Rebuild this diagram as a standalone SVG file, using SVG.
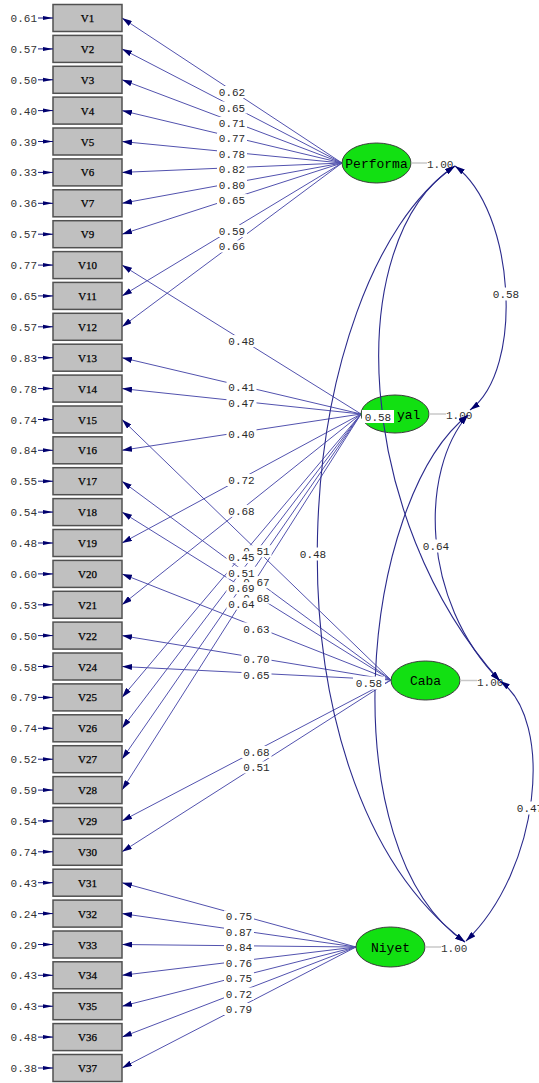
<svg xmlns="http://www.w3.org/2000/svg" width="539" height="1083" viewBox="0 0 539 1083">
<style>
.ov rect{fill:#c0c0c0;stroke:#505050;stroke-width:1.5}
.vn{font:11px "Liberation Serif",serif;fill:#000;text-anchor:middle;stroke:#000;stroke-width:0.25}
.ev{font:11px "Liberation Mono",monospace;fill:#333;text-anchor:end}
.ea{stroke:#1a1a80;stroke-width:1;marker-end:url(#ae)}
.lv ellipse{fill:#12e012;stroke:#3c3c3c;stroke-width:1}
.lt{font:13px "Liberation Mono",monospace;fill:#000;text-anchor:middle}
.vl{stroke:#c8c8c8;stroke-width:1.5}
.vt{font:11px "Liberation Mono",monospace;fill:#333}
.ld line{stroke:#5252ae;stroke-width:1;marker-end:url(#a)}
.cv path{stroke:#2a2a8c;stroke-width:1.1;fill:none;marker-start:url(#a);marker-end:url(#a)}
.lb rect{fill:#fff}
.lb text{font:11px "Liberation Mono",monospace;fill:#2a2a2a;text-anchor:middle}
</style>
<defs>
<marker id="a" markerUnits="userSpaceOnUse" viewBox="0 0 10 6" refX="10" refY="3" markerWidth="10" markerHeight="6" orient="auto-start-reverse"><path d="M0,0L10,3L0,6z" fill="#00006e"/></marker>
<marker id="ae" markerUnits="userSpaceOnUse" viewBox="0 0 10 5" refX="10" refY="2.5" markerWidth="10" markerHeight="5" orient="auto"><path d="M0,0.5L10,2.5L0,4.5z" fill="#00006e"/></marker>
</defs>
<rect width="539" height="1083" fill="#fff"/>

<g id="loadings" class="ld">
<line x1="342" y1="163" x2="122" y2="18"/>
<line x1="342" y1="163" x2="122" y2="48.9"/>
<line x1="342" y1="163" x2="122" y2="79.8"/>
<line x1="342" y1="163" x2="122" y2="110.6"/>
<line x1="342" y1="163" x2="122" y2="141.5"/>
<line x1="342" y1="163" x2="122" y2="172.4"/>
<line x1="342" y1="163" x2="122" y2="203.3"/>
<line x1="342" y1="163" x2="122" y2="234.2"/>
<line x1="342" y1="163" x2="122" y2="295.9"/>
<line x1="342" y1="163" x2="122" y2="326.8"/>
<line x1="361" y1="414" x2="122" y2="265.1"/>
<line x1="361" y1="414" x2="122" y2="357.7"/>
<line x1="361" y1="414" x2="122" y2="388.6"/>
<line x1="361" y1="414" x2="122" y2="450.3"/>
<line x1="361" y1="414" x2="122" y2="543"/>
<line x1="361" y1="414" x2="122" y2="604.8"/>
<line x1="361" y1="414" x2="122" y2="697.4"/>
<line x1="361" y1="414" x2="122" y2="728.3"/>
<line x1="361" y1="414" x2="122" y2="759.2"/>
<line x1="361" y1="414" x2="122" y2="790.1"/>
<line x1="391" y1="680" x2="122" y2="419.5"/>
<line x1="391" y1="680" x2="122" y2="481.2"/>
<line x1="391" y1="680" x2="122" y2="512.1"/>
<line x1="391" y1="680" x2="122" y2="573.9"/>
<line x1="391" y1="680" x2="122" y2="635.6"/>
<line x1="391" y1="680" x2="122" y2="666.5"/>
<line x1="391" y1="680" x2="122" y2="820.9"/>
<line x1="391" y1="680" x2="122" y2="851.8"/>
<line x1="356" y1="947" x2="122" y2="882.7"/>
<line x1="356" y1="947" x2="122" y2="913.6"/>
<line x1="356" y1="947" x2="122" y2="944.5"/>
<line x1="356" y1="947" x2="122" y2="975.3"/>
<line x1="356" y1="947" x2="122" y2="1006.2"/>
<line x1="356" y1="947" x2="122" y2="1037.1"/>
<line x1="356" y1="947" x2="122" y2="1068"/>
</g>

<g id="V1" class="ov" transform="translate(0,18)"><rect x="53" y="-13.5" width="69" height="27"/><text class="vn" x="87.5" y="4">V1</text><text class="ev" x="37" y="4">0.61</text><line class="ea" x1="38" y1="0" x2="53" y2="0"/></g>
<g id="V2" class="ov" transform="translate(0,48.9)"><rect x="53" y="-13.5" width="69" height="27"/><text class="vn" x="87.5" y="4">V2</text><text class="ev" x="37" y="4">0.57</text><line class="ea" x1="38" y1="0" x2="53" y2="0"/></g>
<g id="V3" class="ov" transform="translate(0,79.8)"><rect x="53" y="-13.5" width="69" height="27"/><text class="vn" x="87.5" y="4">V3</text><text class="ev" x="37" y="4">0.50</text><line class="ea" x1="38" y1="0" x2="53" y2="0"/></g>
<g id="V4" class="ov" transform="translate(0,110.6)"><rect x="53" y="-13.5" width="69" height="27"/><text class="vn" x="87.5" y="4">V4</text><text class="ev" x="37" y="4">0.40</text><line class="ea" x1="38" y1="0" x2="53" y2="0"/></g>
<g id="V5" class="ov" transform="translate(0,141.5)"><rect x="53" y="-13.5" width="69" height="27"/><text class="vn" x="87.5" y="4">V5</text><text class="ev" x="37" y="4">0.39</text><line class="ea" x1="38" y1="0" x2="53" y2="0"/></g>
<g id="V6" class="ov" transform="translate(0,172.4)"><rect x="53" y="-13.5" width="69" height="27"/><text class="vn" x="87.5" y="4">V6</text><text class="ev" x="37" y="4">0.33</text><line class="ea" x1="38" y1="0" x2="53" y2="0"/></g>
<g id="V7" class="ov" transform="translate(0,203.3)"><rect x="53" y="-13.5" width="69" height="27"/><text class="vn" x="87.5" y="4">V7</text><text class="ev" x="37" y="4">0.36</text><line class="ea" x1="38" y1="0" x2="53" y2="0"/></g>
<g id="V9" class="ov" transform="translate(0,234.2)"><rect x="53" y="-13.5" width="69" height="27"/><text class="vn" x="87.5" y="4">V9</text><text class="ev" x="37" y="4">0.57</text><line class="ea" x1="38" y1="0" x2="53" y2="0"/></g>
<g id="V10" class="ov" transform="translate(0,265.1)"><rect x="53" y="-13.5" width="69" height="27"/><text class="vn" x="87.5" y="4">V10</text><text class="ev" x="37" y="4">0.77</text><line class="ea" x1="38" y1="0" x2="53" y2="0"/></g>
<g id="V11" class="ov" transform="translate(0,295.9)"><rect x="53" y="-13.5" width="69" height="27"/><text class="vn" x="87.5" y="4">V11</text><text class="ev" x="37" y="4">0.65</text><line class="ea" x1="38" y1="0" x2="53" y2="0"/></g>
<g id="V12" class="ov" transform="translate(0,326.8)"><rect x="53" y="-13.5" width="69" height="27"/><text class="vn" x="87.5" y="4">V12</text><text class="ev" x="37" y="4">0.57</text><line class="ea" x1="38" y1="0" x2="53" y2="0"/></g>
<g id="V13" class="ov" transform="translate(0,357.7)"><rect x="53" y="-13.5" width="69" height="27"/><text class="vn" x="87.5" y="4">V13</text><text class="ev" x="37" y="4">0.83</text><line class="ea" x1="38" y1="0" x2="53" y2="0"/></g>
<g id="V14" class="ov" transform="translate(0,388.6)"><rect x="53" y="-13.5" width="69" height="27"/><text class="vn" x="87.5" y="4">V14</text><text class="ev" x="37" y="4">0.78</text><line class="ea" x1="38" y1="0" x2="53" y2="0"/></g>
<g id="V15" class="ov" transform="translate(0,419.5)"><rect x="53" y="-13.5" width="69" height="27"/><text class="vn" x="87.5" y="4">V15</text><text class="ev" x="37" y="4">0.74</text><line class="ea" x1="38" y1="0" x2="53" y2="0"/></g>
<g id="V16" class="ov" transform="translate(0,450.3)"><rect x="53" y="-13.5" width="69" height="27"/><text class="vn" x="87.5" y="4">V16</text><text class="ev" x="37" y="4">0.84</text><line class="ea" x1="38" y1="0" x2="53" y2="0"/></g>
<g id="V17" class="ov" transform="translate(0,481.2)"><rect x="53" y="-13.5" width="69" height="27"/><text class="vn" x="87.5" y="4">V17</text><text class="ev" x="37" y="4">0.55</text><line class="ea" x1="38" y1="0" x2="53" y2="0"/></g>
<g id="V18" class="ov" transform="translate(0,512.1)"><rect x="53" y="-13.5" width="69" height="27"/><text class="vn" x="87.5" y="4">V18</text><text class="ev" x="37" y="4">0.54</text><line class="ea" x1="38" y1="0" x2="53" y2="0"/></g>
<g id="V19" class="ov" transform="translate(0,543)"><rect x="53" y="-13.5" width="69" height="27"/><text class="vn" x="87.5" y="4">V19</text><text class="ev" x="37" y="4">0.48</text><line class="ea" x1="38" y1="0" x2="53" y2="0"/></g>
<g id="V20" class="ov" transform="translate(0,573.9)"><rect x="53" y="-13.5" width="69" height="27"/><text class="vn" x="87.5" y="4">V20</text><text class="ev" x="37" y="4">0.60</text><line class="ea" x1="38" y1="0" x2="53" y2="0"/></g>
<g id="V21" class="ov" transform="translate(0,604.8)"><rect x="53" y="-13.5" width="69" height="27"/><text class="vn" x="87.5" y="4">V21</text><text class="ev" x="37" y="4">0.53</text><line class="ea" x1="38" y1="0" x2="53" y2="0"/></g>
<g id="V22" class="ov" transform="translate(0,635.6)"><rect x="53" y="-13.5" width="69" height="27"/><text class="vn" x="87.5" y="4">V22</text><text class="ev" x="37" y="4">0.50</text><line class="ea" x1="38" y1="0" x2="53" y2="0"/></g>
<g id="V24" class="ov" transform="translate(0,666.5)"><rect x="53" y="-13.5" width="69" height="27"/><text class="vn" x="87.5" y="4">V24</text><text class="ev" x="37" y="4">0.58</text><line class="ea" x1="38" y1="0" x2="53" y2="0"/></g>
<g id="V25" class="ov" transform="translate(0,697.4)"><rect x="53" y="-13.5" width="69" height="27"/><text class="vn" x="87.5" y="4">V25</text><text class="ev" x="37" y="4">0.79</text><line class="ea" x1="38" y1="0" x2="53" y2="0"/></g>
<g id="V26" class="ov" transform="translate(0,728.3)"><rect x="53" y="-13.5" width="69" height="27"/><text class="vn" x="87.5" y="4">V26</text><text class="ev" x="37" y="4">0.74</text><line class="ea" x1="38" y1="0" x2="53" y2="0"/></g>
<g id="V27" class="ov" transform="translate(0,759.2)"><rect x="53" y="-13.5" width="69" height="27"/><text class="vn" x="87.5" y="4">V27</text><text class="ev" x="37" y="4">0.52</text><line class="ea" x1="38" y1="0" x2="53" y2="0"/></g>
<g id="V28" class="ov" transform="translate(0,790.1)"><rect x="53" y="-13.5" width="69" height="27"/><text class="vn" x="87.5" y="4">V28</text><text class="ev" x="37" y="4">0.59</text><line class="ea" x1="38" y1="0" x2="53" y2="0"/></g>
<g id="V29" class="ov" transform="translate(0,820.9)"><rect x="53" y="-13.5" width="69" height="27"/><text class="vn" x="87.5" y="4">V29</text><text class="ev" x="37" y="4">0.54</text><line class="ea" x1="38" y1="0" x2="53" y2="0"/></g>
<g id="V30" class="ov" transform="translate(0,851.8)"><rect x="53" y="-13.5" width="69" height="27"/><text class="vn" x="87.5" y="4">V30</text><text class="ev" x="37" y="4">0.74</text><line class="ea" x1="38" y1="0" x2="53" y2="0"/></g>
<g id="V31" class="ov" transform="translate(0,882.7)"><rect x="53" y="-13.5" width="69" height="27"/><text class="vn" x="87.5" y="4">V31</text><text class="ev" x="37" y="4">0.43</text><line class="ea" x1="38" y1="0" x2="53" y2="0"/></g>
<g id="V32" class="ov" transform="translate(0,913.6)"><rect x="53" y="-13.5" width="69" height="27"/><text class="vn" x="87.5" y="4">V32</text><text class="ev" x="37" y="4">0.24</text><line class="ea" x1="38" y1="0" x2="53" y2="0"/></g>
<g id="V33" class="ov" transform="translate(0,944.5)"><rect x="53" y="-13.5" width="69" height="27"/><text class="vn" x="87.5" y="4">V33</text><text class="ev" x="37" y="4">0.29</text><line class="ea" x1="38" y1="0" x2="53" y2="0"/></g>
<g id="V34" class="ov" transform="translate(0,975.3)"><rect x="53" y="-13.5" width="69" height="27"/><text class="vn" x="87.5" y="4">V34</text><text class="ev" x="37" y="4">0.43</text><line class="ea" x1="38" y1="0" x2="53" y2="0"/></g>
<g id="V35" class="ov" transform="translate(0,1006.2)"><rect x="53" y="-13.5" width="69" height="27"/><text class="vn" x="87.5" y="4">V35</text><text class="ev" x="37" y="4">0.43</text><line class="ea" x1="38" y1="0" x2="53" y2="0"/></g>
<g id="V36" class="ov" transform="translate(0,1037.1)"><rect x="53" y="-13.5" width="69" height="27"/><text class="vn" x="87.5" y="4">V36</text><text class="ev" x="37" y="4">0.48</text><line class="ea" x1="38" y1="0" x2="53" y2="0"/></g>
<g id="V37" class="ov" transform="translate(0,1068)"><rect x="53" y="-13.5" width="69" height="27"/><text class="vn" x="87.5" y="4">V37</text><text class="ev" x="37" y="4">0.38</text><line class="ea" x1="38" y1="0" x2="53" y2="0"/></g>

<g id="Performa" class="lv"><ellipse cx="376.5" cy="163" rx="34.5" ry="20"/><text class="lt" x="376.5" y="167.5">Performa</text><line class="vl" x1="411" y1="163" x2="427" y2="163"/><text class="vt" x="427" y="168">1.00</text></g>
<g id="Yal" class="lv"><ellipse cx="395" cy="414" rx="34" ry="19"/><text class="lt" x="397" y="418.5" style="text-anchor:start">yal</text><line class="vl" x1="429" y1="414" x2="446" y2="414"/><text class="vt" x="446" y="419">1.00</text></g>
<g id="Caba" class="lv"><ellipse cx="425.5" cy="680.5" rx="34.5" ry="19.5"/><text class="lt" x="425.5" y="685">Caba</text><line class="vl" x1="460" y1="680.5" x2="477" y2="680.5"/><text class="vt" x="477" y="685.5">1.00</text></g>
<g id="Niyet" class="lv"><ellipse cx="390.5" cy="947" rx="34.5" ry="20"/><text class="lt" x="390.5" y="951.5">Niyet</text><line class="vl" x1="425" y1="947" x2="441" y2="947"/><text class="vt" x="441" y="952">1.00</text></g>

<g id="covariances" class="cv">
<path d="M455,166C515,210 525,370 470,410"/>
<path d="M468,415C420,470 420,600 500,681"/>
<path d="M500,681C555,720 540,870 466,941"/>
<path d="M455,166C340,240 355,520 500,681"/>
<path d="M455,166C290,280 250,780 465,942"/>
<path d="M468,415C360,500 330,850 465,942"/>
</g>

<g id="labels" class="lb">
<g transform="translate(232,92)"><rect x="-15" y="-6" width="30" height="12"/><text y="4">0.62</text></g>
<g transform="translate(232,107.5)"><rect x="-15" y="-6" width="30" height="12"/><text y="4">0.65</text></g>
<g transform="translate(232,122.9)"><rect x="-15" y="-6" width="30" height="12"/><text y="4">0.71</text></g>
<g transform="translate(232,138.3)"><rect x="-15" y="-6" width="30" height="12"/><text y="4">0.77</text></g>
<g transform="translate(232,153.8)"><rect x="-15" y="-6" width="30" height="12"/><text y="4">0.78</text></g>
<g transform="translate(232,169.2)"><rect x="-15" y="-6" width="30" height="12"/><text y="4">0.82</text></g>
<g transform="translate(232,184.7)"><rect x="-15" y="-6" width="30" height="12"/><text y="4">0.80</text></g>
<g transform="translate(232,200.1)"><rect x="-15" y="-6" width="30" height="12"/><text y="4">0.65</text></g>
<g transform="translate(232,231)"><rect x="-15" y="-6" width="30" height="12"/><text y="4">0.59</text></g>
<g transform="translate(232,246.4)"><rect x="-15" y="-6" width="30" height="12"/><text y="4">0.66</text></g>
<g transform="translate(256.5,551.3)"><rect x="-15" y="-6" width="30" height="12"/><text y="4">0.51</text></g>
<g transform="translate(256.5,582.1)"><rect x="-15" y="-6" width="30" height="12"/><text y="4">0.67</text></g>
<g transform="translate(256.5,597.6)"><rect x="-15" y="-6" width="30" height="12"/><text y="4">0.68</text></g>
<g transform="translate(256.5,628.5)"><rect x="-15" y="-6" width="30" height="12"/><text y="4">0.63</text></g>
<g transform="translate(256.5,659.3)"><rect x="-15" y="-6" width="30" height="12"/><text y="4">0.70</text></g>
<g transform="translate(256.5,674.8)"><rect x="-15" y="-6" width="30" height="12"/><text y="4">0.65</text></g>
<g transform="translate(256.5,752)"><rect x="-15" y="-6" width="30" height="12"/><text y="4">0.68</text></g>
<g transform="translate(256.5,767.4)"><rect x="-15" y="-6" width="30" height="12"/><text y="4">0.51</text></g>
<g transform="translate(241.5,341.1)"><rect x="-15" y="-6" width="30" height="12"/><text y="4">0.48</text></g>
<g transform="translate(241.5,387.4)"><rect x="-15" y="-6" width="30" height="12"/><text y="4">0.41</text></g>
<g transform="translate(241.5,402.8)"><rect x="-15" y="-6" width="30" height="12"/><text y="4">0.47</text></g>
<g transform="translate(241.5,433.7)"><rect x="-15" y="-6" width="30" height="12"/><text y="4">0.40</text></g>
<g transform="translate(241.5,480)"><rect x="-15" y="-6" width="30" height="12"/><text y="4">0.72</text></g>
<g transform="translate(241.5,510.9)"><rect x="-15" y="-6" width="30" height="12"/><text y="4">0.68</text></g>
<g transform="translate(241.5,557.2)"><rect x="-15" y="-6" width="30" height="12"/><text y="4">0.45</text></g>
<g transform="translate(241.5,572.7)"><rect x="-15" y="-6" width="30" height="12"/><text y="4">0.51</text></g>
<g transform="translate(241.5,588.1)"><rect x="-15" y="-6" width="30" height="12"/><text y="4">0.69</text></g>
<g transform="translate(241.5,603.6)"><rect x="-15" y="-6" width="30" height="12"/><text y="4">0.64</text></g>
<g transform="translate(239,916.4)"><rect x="-15" y="-6" width="30" height="12"/><text y="4">0.75</text></g>
<g transform="translate(239,931.8)"><rect x="-15" y="-6" width="30" height="12"/><text y="4">0.87</text></g>
<g transform="translate(239,947.3)"><rect x="-15" y="-6" width="30" height="12"/><text y="4">0.84</text></g>
<g transform="translate(239,962.7)"><rect x="-15" y="-6" width="30" height="12"/><text y="4">0.76</text></g>
<g transform="translate(239,978.1)"><rect x="-15" y="-6" width="30" height="12"/><text y="4">0.75</text></g>
<g transform="translate(239,993.6)"><rect x="-15" y="-6" width="30" height="12"/><text y="4">0.72</text></g>
<g transform="translate(239,1009)"><rect x="-15" y="-6" width="30" height="12"/><text y="4">0.79</text></g>
<g transform="translate(506,294)"><rect x="-16" y="-6.5" width="32" height="13"/><text y="4">0.58</text></g>
<g transform="translate(436,546)"><rect x="-16" y="-6.5" width="32" height="13"/><text y="4">0.64</text></g>
<g transform="translate(530,808)"><rect x="-16" y="-6.5" width="32" height="13"/><text y="4">0.47</text></g>
<g transform="translate(378,416.5)"><rect x="-16" y="-6.5" width="32" height="13"/><text y="4">0.58</text></g>
<g transform="translate(313,554)"><rect x="-16" y="-6.5" width="32" height="13"/><text y="4">0.48</text></g>
<g transform="translate(369,683)"><rect x="-16" y="-6.5" width="32" height="13"/><text y="4">0.58</text></g>
</g>
</svg>
